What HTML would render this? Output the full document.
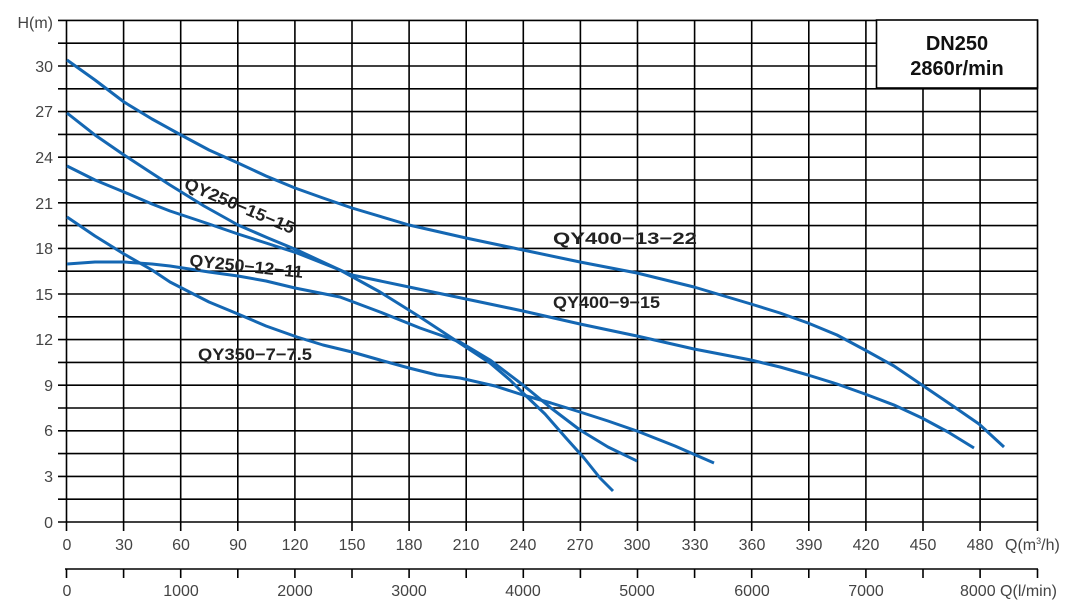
<!DOCTYPE html>
<html><head><meta charset="utf-8"><style>
html,body{margin:0;padding:0;background:#fff;}
svg{display:block;font-family:"Liberation Sans",Arial,sans-serif;}
.t{font-size:16px;fill:#444;}
.l{font-size:17px;font-weight:bold;fill:#222;}
.c{fill:none;stroke:#1467b3;stroke-width:3;stroke-linejoin:round;stroke-linecap:butt;}
</style></head><body>
<svg width="1077" height="610" viewBox="0 0 1077 610" xmlns="http://www.w3.org/2000/svg">
<g stroke="#000" stroke-width="1.6">
<line x1="58" y1="20.4" x2="1038" y2="20.4"/><line x1="58" y1="43.2" x2="1038" y2="43.2"/><line x1="58" y1="66" x2="1038" y2="66"/><line x1="58" y1="88.8" x2="1038" y2="88.8"/><line x1="58" y1="111.6" x2="1038" y2="111.6"/><line x1="58" y1="134.4" x2="1038" y2="134.4"/><line x1="58" y1="157.2" x2="1038" y2="157.2"/><line x1="58" y1="180" x2="1038" y2="180"/><line x1="58" y1="202.8" x2="1038" y2="202.8"/><line x1="58" y1="225.6" x2="1038" y2="225.6"/><line x1="58" y1="248.4" x2="1038" y2="248.4"/><line x1="58" y1="271.2" x2="1038" y2="271.2"/><line x1="58" y1="294" x2="1038" y2="294"/><line x1="58" y1="316.8" x2="1038" y2="316.8"/><line x1="58" y1="339.6" x2="1038" y2="339.6"/><line x1="58" y1="362.4" x2="1038" y2="362.4"/><line x1="58" y1="385.2" x2="1038" y2="385.2"/><line x1="58" y1="408" x2="1038" y2="408"/><line x1="58" y1="430.8" x2="1038" y2="430.8"/><line x1="58" y1="453.6" x2="1038" y2="453.6"/><line x1="58" y1="476.4" x2="1038" y2="476.4"/><line x1="58" y1="499.2" x2="1038" y2="499.2"/><line x1="58" y1="522" x2="1038" y2="522"/>
<line x1="66.5" y1="20" x2="66.5" y2="531"/><line x1="123.6" y1="20" x2="123.6" y2="531"/><line x1="180.7" y1="20" x2="180.7" y2="531"/><line x1="237.8" y1="20" x2="237.8" y2="531"/><line x1="294.9" y1="20" x2="294.9" y2="531"/><line x1="352" y1="20" x2="352" y2="531"/><line x1="409.1" y1="20" x2="409.1" y2="531"/><line x1="466.2" y1="20" x2="466.2" y2="531"/><line x1="523.3" y1="20" x2="523.3" y2="531"/><line x1="580.4" y1="20" x2="580.4" y2="531"/><line x1="637.5" y1="20" x2="637.5" y2="531"/><line x1="694.6" y1="20" x2="694.6" y2="531"/><line x1="751.7" y1="20" x2="751.7" y2="531"/><line x1="808.8" y1="20" x2="808.8" y2="531"/><line x1="865.9" y1="20" x2="865.9" y2="531"/><line x1="923" y1="20" x2="923" y2="531"/><line x1="980.1" y1="20" x2="980.1" y2="531"/><line x1="1037.5" y1="20" x2="1037.5" y2="531"/>
<line x1="65" y1="569" x2="1038" y2="569"/>
<line x1="66.5" y1="569" x2="66.5" y2="578"/><line x1="123.6" y1="569" x2="123.6" y2="578"/><line x1="180.7" y1="569" x2="180.7" y2="578"/><line x1="237.8" y1="569" x2="237.8" y2="578"/><line x1="294.9" y1="569" x2="294.9" y2="578"/><line x1="352" y1="569" x2="352" y2="578"/><line x1="409.1" y1="569" x2="409.1" y2="578"/><line x1="466.2" y1="569" x2="466.2" y2="578"/><line x1="523.3" y1="569" x2="523.3" y2="578"/><line x1="580.4" y1="569" x2="580.4" y2="578"/><line x1="637.5" y1="569" x2="637.5" y2="578"/><line x1="694.6" y1="569" x2="694.6" y2="578"/><line x1="751.7" y1="569" x2="751.7" y2="578"/><line x1="808.8" y1="569" x2="808.8" y2="578"/><line x1="865.9" y1="569" x2="865.9" y2="578"/><line x1="923" y1="569" x2="923" y2="578"/><line x1="980.1" y1="569" x2="980.1" y2="578"/><line x1="1037.5" y1="569" x2="1037.5" y2="578"/>
</g>
<rect x="876.5" y="20" width="161" height="68" fill="#fff" stroke="#000" stroke-width="1.6"/>
<text x="957" y="50" text-anchor="middle" font-size="20" font-weight="bold" fill="#111">DN250</text>
<text x="957" y="75" text-anchor="middle" font-size="20" font-weight="bold" fill="#111">2860r/min</text>
<g class="t" text-anchor="end">
<text x="53" y="28">H(m)</text>
<text x="53" y="72">30</text><text x="53" y="117">27</text><text x="53" y="163">24</text><text x="53" y="209">21</text><text x="53" y="254">18</text><text x="53" y="300">15</text><text x="53" y="345">12</text><text x="53" y="391">9</text><text x="53" y="436">6</text><text x="53" y="482">3</text><text x="53" y="528">0</text>
</g>
<g class="t" text-anchor="middle">
<text x="67" y="550">0</text><text x="124" y="550">30</text><text x="181" y="550">60</text><text x="238" y="550">90</text><text x="295" y="550">120</text><text x="352" y="550">150</text><text x="409" y="550">180</text><text x="466" y="550">210</text><text x="523" y="550">240</text><text x="580" y="550">270</text><text x="637" y="550">300</text><text x="695" y="550">330</text><text x="752" y="550">360</text><text x="809" y="550">390</text><text x="866" y="550">420</text><text x="923" y="550">450</text><text x="980" y="550">480</text>
<text x="67" y="596">0</text><text x="181" y="596">1000</text><text x="295" y="596">2000</text><text x="409" y="596">3000</text><text x="523" y="596">4000</text><text x="637" y="596">5000</text><text x="752" y="596">6000</text><text x="866" y="596">7000</text>
</g>
<text class="t" x="1005" y="550">Q(m<tspan font-size="9" dy="-6">3</tspan><tspan dy="6">/h)</tspan></text>
<text class="t" x="960" y="596">8000 Q(l/min)</text>
<polyline class="c" points="67,60 95,80 124,102 152,119 181,135 209,150 238,163 266,176 295,188 323,198 352,208 409,225 466,238 523,250 580,262 637,273 694,287 751,304 780,313 808,323 837,335 865,350 894,366 922,385 950,404 979,424 1004,447"/>
<polyline class="c" points="67,166 95,180 124,192 152,204 170,211 209,224 238,234 266,243 297,253 340,270 352,275 409,287 466,299 523,311 580,324 637,336 694,349 751,360 780,367 808,375 837,384 865,394 894,405 922,418 948,432 974,448"/>
<polyline class="c" points="67,113 95,135 124,155 150,172 170,185 204,206 238,225 268,238 297,250 340,270 380,292 420,317 455,340 490,363 510,380 523,393 545,414 566,438 584,458 600,478 613,491"/>
<polyline class="c" points="67,264 95,262 124,262 152,264 170,266 209,272 238,276 266,281 295,288 320,293 340,297 380,312 420,328 460,342 490,360 523,385 551,408 580,430 608,447 637,461"/>
<polyline class="c" points="67,217 95,236 124,254 152,270 170,282 209,302 238,314 266,326 297,337 323,345 352,352 380,360 409,368 437,375 460,378 495,386 523,395 551,403 580,412 608,421 637,431 675,446 714,463"/>
<text class="l" transform="translate(183,188) rotate(23)" textLength="118" lengthAdjust="spacingAndGlyphs">QY250−15−15</text>
<text class="l" transform="translate(189,266) rotate(6)" textLength="114" lengthAdjust="spacingAndGlyphs">QY250−12−11</text>
<text class="l" x="198" y="360" textLength="114" lengthAdjust="spacingAndGlyphs">QY350−7−7.5</text>
<text class="l" x="553" y="244" textLength="144" lengthAdjust="spacingAndGlyphs">QY400−13−22</text>
<text class="l" x="553" y="308" textLength="107" lengthAdjust="spacingAndGlyphs">QY400−9−15</text>
</svg>
</body></html>
